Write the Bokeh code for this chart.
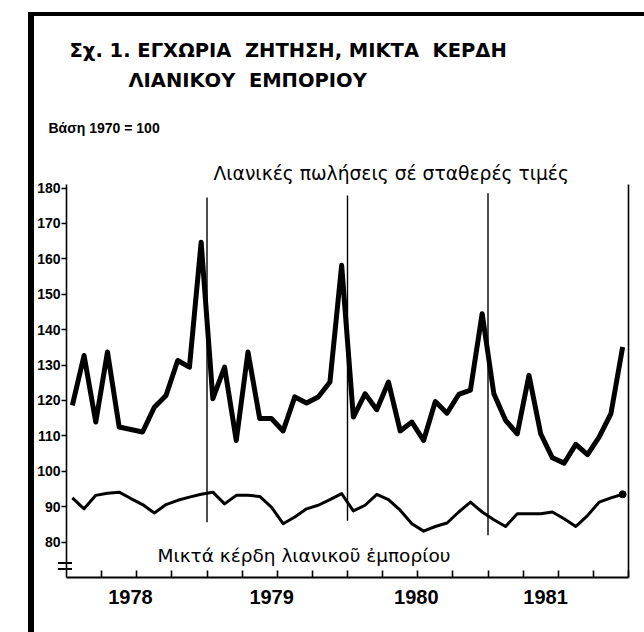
import numpy as np
from bokeh.plotting import figure
from bokeh.models import Range1d, FixedTicker, LinearAxis, Label, Title, InlineStyleSheet
from bokeh.embed import file_html
from bokeh.resources import INLINE

# ---------------- data ----------------
years = [1978, 1979, 1980, 1981]
sales_1978 = [118.6, 132.7, 113.9, 133.7, 112.5, 111.8, 111.1, 118.1, 121.4, 131.3, 129.4, 164.7]
sales_1979 = [120.5, 129.4, 108.7, 133.7, 114.9, 114.9, 111.4, 121.0, 119.3, 121.0, 125.2, 158.2]
sales_1980 = [115.3, 121.9, 117.4, 125.2, 111.4, 113.9, 108.7, 119.7, 116.4, 121.7, 122.9, 144.5]
sales_1981 = [121.9, 114.4, 110.6, 127.1, 110.6, 103.8, 102.3, 107.6, 104.7, 109.7, 116.3, 135.1]
profit_1978 = [92.5, 89.4, 93.2, 93.8, 94.1, 92.3, 90.6, 88.2, 90.6, 91.8, 92.7, 93.5]
profit_1979 = [94.1, 90.8, 93.2, 93.2, 92.9, 89.9, 85.2, 87.1, 89.4, 90.4, 92.0, 93.7]
profit_1980 = [88.8, 90.4, 93.5, 92.0, 89.0, 85.2, 83.1, 84.4, 85.4, 88.5, 91.3, 88.5]
profit_1981 = [86.3, 84.4, 88.0, 88.0, 88.0, 88.5, 86.6, 84.4, 87.5, 91.3, 92.5, 93.5]

year_lines_x = [1979, 1980, 1981]
year_lines_top = [177.3, 177.9, 178.5]
year_lines_bottom = [85.6, 86.0, 81.9]

y_ticks = [80, 90, 100, 110, 120, 130, 140, 150, 160, 170, 180]
year_label_pos = [1978.455, 1979.46, 1980.49, 1981.41]
year_labels = ["1978", "1979", "1980", "1981"]
quarter_ticks = [1978 + q / 4 for q in range(1, 16)] + [1982]

NB = "\u00a0"
title1 = "Σχ. 1. ΕΓΧΩΡΙΑ " + NB + "ΖΗΤΗΣΗ, ΜΙΚΤΑ " + NB + "ΚΕΡΔΗ"
title2 = "ΛΙΑΝΙΚΟΥ " + NB + "ΕΜΠΟΡΙΟΥ"
base_line = "Βάση 1970 = 100"
sales_label = "Λιανικές πωλήσεις σέ σταθερές τιμές"
profit_label = "Μικτά κέρδη λιανικοῦ ἐμπορίου"

sales = sales_1978 + sales_1979 + sales_1980 + sales_1981
profit = profit_1978 + profit_1979 + profit_1980 + profit_1981
t = [y + (m + 0.5) / 12 for y in years for m in range(12)]

FONT = "Liberation Sans"
WIDE = "DejaVu Sans"

# ---------------- figure ----------------
W, H = 644, 632
ML, MR, MT, MB = 66, 16, 184, 55
p = figure(width=W, height=H, output_backend="svg", toolbar_location=None,
           x_range=Range1d(1978, 1982), y_range=Range1d(70, 181),
           min_border_left=ML, min_border_right=MR, min_border_top=MT, min_border_bottom=MB,
           background_fill_color="white", border_fill_color="white", outline_line_color=None)
p.grid.visible = False

# y axis
ya = p.yaxis[0]
ya.ticker = FixedTicker(ticks=y_ticks)
ya.axis_line_width = 1.6
ya.axis_line_color = "black"
ya.major_tick_in = 0
ya.major_tick_out = 5
ya.major_tick_line_width = 1.6
ya.minor_tick_line_color = None
ya.major_label_text_font = FONT
ya.major_label_text_font_style = "bold"
ya.major_label_text_font_size = "14px"
ya.major_label_text_color = "black"
ya.major_label_standoff = 1

# x axis
xa = p.xaxis[0]
xa.ticker = FixedTicker(ticks=year_label_pos, minor_ticks=quarter_ticks)
xa.major_label_overrides = {v: s for v, s in zip(year_label_pos, year_labels)}
xa.axis_line_width = 2
xa.axis_line_color = "black"
xa.major_tick_in = 0
xa.major_tick_out = 0
xa.minor_tick_in = 7
xa.minor_tick_out = 0
xa.minor_tick_line_width = 1.6
xa.minor_tick_line_color = "black"
xa.major_label_text_font = FONT
xa.major_label_text_font_style = "bold"
xa.major_label_text_font_size = "20px"
xa.major_label_text_color = "black"
xa.major_label_standoff = 12

# right frame line
ra = LinearAxis(ticker=FixedTicker(ticks=[]), axis_line_width=1.6, axis_line_color="black",
                major_tick_in=0, major_tick_out=0, minor_tick_in=0, minor_tick_out=0,
                major_label_text_font_size="0px")
p.add_layout(ra, "right")

# year separator lines
p.segment(x0=year_lines_x, y0=year_lines_bottom, x1=year_lines_x, y1=year_lines_top,
          line_color="black", line_width=1.4)

# series
p.line(t, sales, line_color="black", line_width=5, line_join="round")
p.line(t, profit, line_color="black", line_width=3, line_join="round")
p.scatter(t[-1:], profit[-1:], size=7, color="black")

# label inside the frame
p.add_layout(Label(x=157, y=555, x_units="canvas", y_units="canvas", text=profit_label,
                   text_font=WIDE, text_font_size="18.5px", text_align="left",
                   text_baseline="middle", text_color="black"))

# titles above the frame (first added sits closest to the frame)
def ttl(text, offset, font, size, bold, valign, standoff):
    p.add_layout(Title(text=text, align="left", offset=offset, vertical_align=valign,
                       standoff=standoff, text_font=font, text_font_size=size,
                       text_color="black", text_font_style="bold" if bold else "normal"),
                 "above")

ttl(sales_label, 147, WIDE, "18.7px", False, "middle", 0)
ttl(base_line, -18, FONT, "14px", True, "middle", 50)
ttl(title2, 62, WIDE, "19.5px", True, "middle", 1)
ttl(title1, 3, WIDE, "19.5px", True, "middle", 10)

# scanned page frame (thick left/top edges) and the axis-break mark
css = """
:host { position: relative; }
:host::before { content: ''; position: absolute; left: 28px; top: 12px; width: 616px; height: 620px;
  border-left: 6px solid #000; border-top: 4px solid #000; box-sizing: border-box;
  pointer-events: none; z-index: 10; }
:host::after { content: ''; position: absolute; left: 58px; top: 562px; width: 14px; height: 4px;
  border-top: 2px solid #000; border-bottom: 2px solid #000; pointer-events: none; z-index: 10; }
"""
p.stylesheets = [InlineStyleSheet(css=css)]

open("out.html", "w").write(file_html(p, INLINE))
